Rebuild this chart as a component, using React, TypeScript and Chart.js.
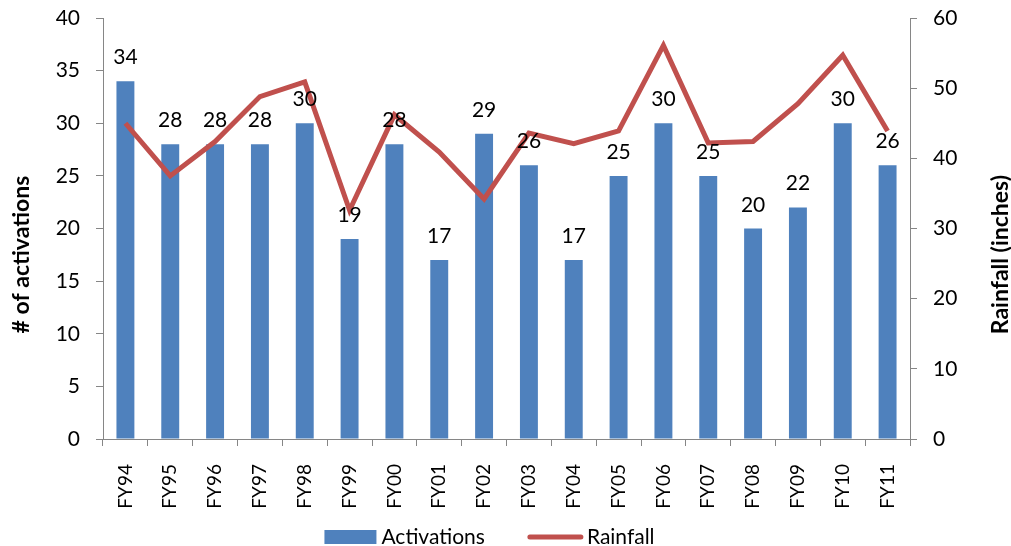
import React, { useEffect, useRef } from "react";
import { Chart, registerables } from "chart.js";

Chart.register(...registerables);

const categories = ["FY94", "FY95", "FY96", "FY97", "FY98", "FY99", "FY00", "FY01", "FY02", "FY03", "FY04", "FY05", "FY06", "FY07", "FY08", "FY09", "FY10", "FY11"];
const activations = [34, 28, 28, 28, 30, 19, 28, 17, 29, 26, 17, 25, 30, 25, 20, 22, 30, 26];
const rainfall = [45.0, 37.5, 42.4, 48.8, 50.9, 32.6, 46.2, 40.9, 34.2, 43.6, 42.1, 43.9, 56.1, 42.2, 42.4, 47.8, 54.7, 43.9];

const FONT = "Lato";
const BAR_COLOR = "#4F81BD";
const LINE_COLOR = "#C0504D";
const AXIS_COLOR = "#868686";

export default function App() {
  const ref = useRef<HTMLCanvasElement>(null);

  useEffect(() => {
    document.body.style.margin = "0";
    const canvas = ref.current;
    if (!canvas) return;

    const barLabels = {
      id: "barLabels",
      afterDatasetsDraw(chart: any) {
        const ctx = chart.ctx;
        const meta = chart.getDatasetMeta(0);
        ctx.save();
        ctx.font = `21px ${FONT}`;
        ctx.fillStyle = "#000";
        ctx.textAlign = "center";
        ctx.textBaseline = "alphabetic";
        meta.data.forEach((el: any, i: number) => {
          ctx.fillText(String(activations[i]), el.x, el.y - 17);
        });
        ctx.restore();
      },
    };

    const extras = {
      id: "extras",
      afterDraw(chart: any) {
        const ctx = chart.ctx;
        const area = chart.chartArea;
        const cy = area.top + (area.bottom - area.top) * 0.562;
        ctx.save();
        ctx.fillStyle = "#000";
        ctx.font = `bold 23px ${FONT}`;
        ctx.textAlign = "center";
        ctx.textBaseline = "middle";
        ctx.save();
        ctx.translate(22, cy);
        ctx.rotate(-Math.PI / 2);
        ctx.fillText("# of activations", 0, 0);
        ctx.restore();
        ctx.save();
        ctx.translate(chart.width - 10, cy);
        ctx.rotate(-Math.PI / 2);
        ctx.fillText("Rainfall (inches)", 0, 0);
        ctx.restore();

        ctx.font = `21px ${FONT}`;
        ctx.textAlign = "left";
        ctx.textBaseline = "middle";
        const t1 = "Activations";
        const t2 = "Rainfall";
        const w1 = ctx.measureText(t1).width;
        const w2 = ctx.measureText(t2).width;
        const boxW = 52, gap1 = 5, gapMid = 43, lineW = 55, gap2 = 4;
        const total = boxW + gap1 + w1 + gapMid + lineW + gap2 + w2;
        let x = 489.5 - total / 2;
        const ly = chart.height - 9;
        ctx.fillStyle = BAR_COLOR;
        ctx.fillRect(x, ly - 7, boxW, 14);
        x += boxW + gap1;
        ctx.fillStyle = "#000";
        ctx.fillText(t1, x, ly);
        x += w1 + gapMid;
        ctx.strokeStyle = LINE_COLOR;
        ctx.lineWidth = 5;
        ctx.lineCap = "round";
        ctx.beginPath();
        ctx.moveTo(x + 2, ly);
        ctx.lineTo(x + lineW - 2, ly);
        ctx.stroke();
        x += lineW + gap2;
        ctx.fillText(t2, x, ly);
        ctx.restore();
      },
    };

    const fitY = (w: number) => (s: any) => {
      s.width = w;
      s.paddingTop = 0;
      s.paddingBottom = 0;
    };

    const chart = new Chart(canvas, {
      type: "bar",
      data: {
        labels: categories,
        datasets: [
          {
            type: "bar",
            label: "Activations",
            data: activations,
            backgroundColor: BAR_COLOR,
            borderWidth: 0,
            yAxisID: "y",
            barPercentage: 0.4,
            categoryPercentage: 1,
            order: 2,
          },
          {
            type: "line",
            label: "Rainfall",
            data: rainfall,
            borderColor: LINE_COLOR,
            backgroundColor: LINE_COLOR,
            borderWidth: 5,
            pointRadius: 0,
            tension: 0,
            yAxisID: "y2",
            order: 1,
          },
        ],
      },
      options: {
        responsive: false,
        animation: false,
        devicePixelRatio: 1,
        layout: { padding: { top: 18, bottom: 34, left: 0, right: 0 } },
        plugins: {
          legend: { display: false },
          tooltip: { enabled: false },
          title: { display: false },
        },
        scales: {
          x: {
            grid: { drawOnChartArea: false, tickLength: 7, color: AXIS_COLOR, offset: true },
            border: { color: AXIS_COLOR },
            ticks: {
              font: { family: FONT, size: 19 },
              color: "#000",
              minRotation: 90,
              maxRotation: 90,
              padding: 18,
            },
            afterFit: (s: any) => {
              s.height = 73;
              s.paddingLeft = 0;
              s.paddingRight = 0;
            },
          },
          y: {
            position: "left",
            min: 0,
            max: 40,
            ticks: { stepSize: 5, font: { family: FONT, size: 21 }, color: "#000", padding: 16 },
            grid: { drawOnChartArea: false, tickLength: 7, color: AXIS_COLOR },
            border: { color: AXIS_COLOR },
            afterFit: fitY(103),
          },
          y2: {
            position: "right",
            min: 0,
            max: 60,
            ticks: { stepSize: 10, font: { family: FONT, size: 21 }, color: "#000", padding: 16 },
            grid: { drawOnChartArea: false, tickLength: 7, color: AXIS_COLOR },
            border: { color: AXIS_COLOR },
            afterFit: fitY(101),
          },
        },
      },
      plugins: [barLabels, extras],
    });

    return () => chart.destroy();
  }, []);

  return (
    <div style={{ width: 1011, height: 546, position: "relative" }}>
      <canvas ref={ref} width={1011} height={546} style={{ display: "block" }} />
    </div>
  );
}
